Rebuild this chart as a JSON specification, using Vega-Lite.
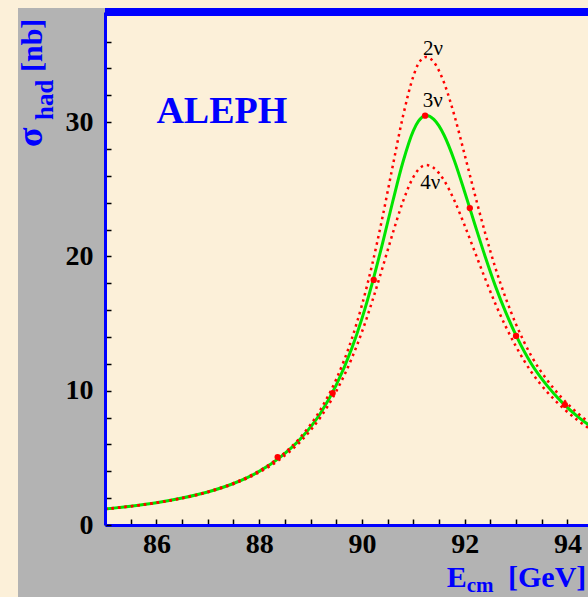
{
  "$schema": "https://vega.github.io/schema/vega-lite/v6.json",
  "width": 483,
  "height": 513,
  "autosize": "none",
  "padding": {"left": 105, "top": 12, "right": 0, "bottom": 72},
  "background": "#fcf0d9",
  "config": {"view": {"stroke": null}},
  "datasets": {
    "fit3": [
      {"E": 85, "sigma": 1.19}, {"E": 85.5, "sigma": 1.40}, {"E": 86, "sigma": 1.66}, {"E": 86.5, "sigma": 2.01},
      {"E": 87, "sigma": 2.46}, {"E": 87.5, "sigma": 3.09}, {"E": 88, "sigma": 3.99}, {"E": 88.4, "sigma": 5.02},
      {"E": 88.8, "sigma": 6.40}, {"E": 89.2, "sigma": 8.36}, {"E": 89.5, "sigma": 10.41}, {"E": 89.8, "sigma": 13.12},
      {"E": 90.0, "sigma": 15.37}, {"E": 90.2, "sigma": 18.0}, {"E": 90.4, "sigma": 20.96}, {"E": 90.6, "sigma": 24.09},
      {"E": 90.8, "sigma": 27.05}, {"E": 91.0, "sigma": 29.35}, {"E": 91.1, "sigma": 30.07}, {"E": 91.25, "sigma": 30.5},
      {"E": 91.4, "sigma": 30.21}, {"E": 91.5, "sigma": 29.72}, {"E": 91.6, "sigma": 29.02}, {"E": 91.8, "sigma": 27.13},
      {"E": 92.0, "sigma": 24.80}, {"E": 92.2, "sigma": 22.36}, {"E": 92.4, "sigma": 19.98}, {"E": 92.6, "sigma": 17.77},
      {"E": 92.8, "sigma": 15.83}, {"E": 93.0, "sigma": 14.12}, {"E": 93.3, "sigma": 11.99}, {"E": 93.6, "sigma": 10.40},
      {"E": 93.9, "sigma": 9.11}, {"E": 94.2, "sigma": 8.07}, {"E": 94.5, "sigma": 7.22}
    ],
    "fitAlt": [
      {"nu": "2ν", "E": 85, "sigma": 1.19}, {"nu": "2ν", "E": 85.5, "sigma": 1.40}, {"nu": "2ν", "E": 86, "sigma": 1.66},
      {"nu": "2ν", "E": 86.5, "sigma": 2.01}, {"nu": "2ν", "E": 87, "sigma": 2.48}, {"nu": "2ν", "E": 87.5, "sigma": 3.12},
      {"nu": "2ν", "E": 88, "sigma": 4.03}, {"nu": "2ν", "E": 88.4, "sigma": 5.07}, {"nu": "2ν", "E": 88.8, "sigma": 6.52},
      {"nu": "2ν", "E": 89.2, "sigma": 8.63}, {"nu": "2ν", "E": 89.5, "sigma": 10.85}, {"nu": "2ν", "E": 89.8, "sigma": 13.83},
      {"nu": "2ν", "E": 90.0, "sigma": 16.37}, {"nu": "2ν", "E": 90.2, "sigma": 19.40}, {"nu": "2ν", "E": 90.4, "sigma": 22.91},
      {"nu": "2ν", "E": 90.6, "sigma": 26.74}, {"nu": "2ν", "E": 90.8, "sigma": 30.45}, {"nu": "2ν", "E": 91.0, "sigma": 33.40},
      {"nu": "2ν", "E": 91.1, "sigma": 34.36}, {"nu": "2ν", "E": 91.25, "sigma": 34.85}, {"nu": "2ν", "E": 91.4, "sigma": 34.47},
      {"nu": "2ν", "E": 91.5, "sigma": 33.83}, {"nu": "2ν", "E": 91.6, "sigma": 32.92}, {"nu": "2ν", "E": 91.8, "sigma": 30.49},
      {"nu": "2ν", "E": 92.0, "sigma": 27.57}, {"nu": "2ν", "E": 92.2, "sigma": 24.58}, {"nu": "2ν", "E": 92.4, "sigma": 21.72},
      {"nu": "2ν", "E": 92.6, "sigma": 19.12}, {"nu": "2ν", "E": 92.8, "sigma": 16.88}, {"nu": "2ν", "E": 93.0, "sigma": 14.94},
      {"nu": "2ν", "E": 93.3, "sigma": 12.57}, {"nu": "2ν", "E": 93.6, "sigma": 10.82}, {"nu": "2ν", "E": 93.9, "sigma": 9.43},
      {"nu": "2ν", "E": 94.2, "sigma": 8.32}, {"nu": "2ν", "E": 94.5, "sigma": 7.41},
      {"nu": "4ν", "E": 85, "sigma": 1.19}, {"nu": "4ν", "E": 85.5, "sigma": 1.39}, {"nu": "4ν", "E": 86, "sigma": 1.65},
      {"nu": "4ν", "E": 86.5, "sigma": 1.99}, {"nu": "4ν", "E": 87, "sigma": 2.44}, {"nu": "4ν", "E": 87.5, "sigma": 3.05},
      {"nu": "4ν", "E": 88, "sigma": 3.92}, {"nu": "4ν", "E": 88.4, "sigma": 4.88}, {"nu": "4ν", "E": 88.8, "sigma": 6.20},
      {"nu": "4ν", "E": 89.2, "sigma": 8.06}, {"nu": "4ν", "E": 89.5, "sigma": 9.95}, {"nu": "4ν", "E": 89.8, "sigma": 12.39},
      {"nu": "4ν", "E": 90.0, "sigma": 14.37}, {"nu": "4ν", "E": 90.2, "sigma": 16.65}, {"nu": "4ν", "E": 90.4, "sigma": 19.15},
      {"nu": "4ν", "E": 90.6, "sigma": 21.72}, {"nu": "4ν", "E": 90.8, "sigma": 24.10}, {"nu": "4ν", "E": 91.0, "sigma": 25.90},
      {"nu": "4ν", "E": 91.1, "sigma": 26.47}, {"nu": "4ν", "E": 91.25, "sigma": 26.8}, {"nu": "4ν", "E": 91.4, "sigma": 26.58},
      {"nu": "4ν", "E": 91.5, "sigma": 26.20}, {"nu": "4ν", "E": 91.6, "sigma": 25.65}, {"nu": "4ν", "E": 91.8, "sigma": 24.16},
      {"nu": "4ν", "E": 92.0, "sigma": 22.30}, {"nu": "4ν", "E": 92.2, "sigma": 20.31}, {"nu": "4ν", "E": 92.4, "sigma": 18.33},
      {"nu": "4ν", "E": 92.6, "sigma": 16.45}, {"nu": "4ν", "E": 92.8, "sigma": 14.77}, {"nu": "4ν", "E": 93.0, "sigma": 13.28},
      {"nu": "4ν", "E": 93.3, "sigma": 11.38}, {"nu": "4ν", "E": 93.6, "sigma": 9.93}, {"nu": "4ν", "E": 93.9, "sigma": 8.76},
      {"nu": "4ν", "E": 94.2, "sigma": 7.79}, {"nu": "4ν", "E": 94.5, "sigma": 6.99}
    ],
    "points": [
      {"E": 88.36, "sigma": 5.06}, {"E": 89.43, "sigma": 9.82}, {"E": 90.23, "sigma": 18.25},
      {"E": 91.23, "sigma": 30.48}, {"E": 92.10, "sigma": 23.6}, {"E": 93.0, "sigma": 14.08}, {"E": 93.95, "sigma": 8.95}
    ]
  },
  "layer": [
    {
      "data": {"values": [{}]},
      "mark": {"type": "rect", "color": "#b3b3b3", "clip": false},
      "encoding": {
        "x": {"datum": 83.307, "type": "quantitative"},
        "x2": {"datum": 95.5},
        "y": {"datum": 38.498, "type": "quantitative"},
        "y2": {"datum": -7}
      }
    },
    {
      "data": {"values": [{}]},
      "mark": {"type": "rect", "color": "#fcf0d9", "clip": false},
      "encoding": {
        "x": {"datum": 85, "type": "quantitative"},
        "x2": {"datum": 95.5},
        "y": {"datum": 0, "type": "quantitative"},
        "y2": {"datum": 38.6}
      }
    },
    {
      "data": {"name": "fit3"},
      "mark": {"type": "line", "color": "#00e400", "strokeWidth": 3, "interpolate": "monotone", "clip": true},
      "encoding": {
        "x": {
          "field": "E", "type": "quantitative",
          "scale": {"domain": [85, 94.4], "nice": false, "zero": false},
          "axis": {
            "title": null, "grid": false, "zindex": 1, "tickCount": 60,
            "values": [85.5, 86, 86.5, 87, 87.5, 88, 88.5, 89, 89.5, 90, 90.5, 91, 91.5, 92, 92.5, 93, 93.5, 94],
            "domainColor": "#0000ff", "domainWidth": 3,
            "tickColor": "#000000", "tickWidth": 1.5, "tickSize": -6,
            "labelExpr": "datum.value % 2 === 0 ? format(datum.value, 'd') : ''",
            "labelFont": "Liberation Serif", "labelFontSize": 28, "labelFontWeight": "bold", "labelColor": "#000000",
            "labelPadding": 11, "labelFlush": false, "labelOverlap": false, "labelBound": false
          }
        },
        "y": {
          "field": "sigma", "type": "quantitative",
          "scale": {"domain": [0, 38.2], "nice": false, "zero": false},
          "axis": {
            "title": null, "grid": false, "zindex": 1, "tickCount": 60,
            "values": [0, 2, 4, 6, 8, 10, 12, 14, 16, 18, 20, 22, 24, 26, 28, 30, 32, 34, 36],
            "domainColor": "#0000ff", "domainWidth": 3,
            "tickColor": "#000000", "tickWidth": 1.5, "tickSize": -6,
            "labelExpr": "datum.value % 10 === 0 ? format(datum.value, 'd') : ''",
            "labelFont": "Liberation Serif", "labelFontSize": 28, "labelFontWeight": "bold", "labelColor": "#000000",
            "labelPadding": 18, "labelFlush": false, "labelOverlap": false, "labelBound": false
          }
        }
      }
    },
    {
      "data": {"name": "fitAlt"},
      "mark": {"type": "line", "color": "#ff0000", "strokeWidth": 2.5, "strokeDash": [2.5, 4], "interpolate": "monotone", "clip": true},
      "encoding": {
        "x": {"field": "E", "type": "quantitative"},
        "y": {"field": "sigma", "type": "quantitative"},
        "detail": {"field": "nu"}
      }
    },
    {
      "data": {"name": "points"},
      "mark": {"type": "circle", "color": "#ff0000", "opacity": 1, "size": 40},
      "encoding": {
        "x": {"field": "E", "type": "quantitative"},
        "y": {"field": "sigma", "type": "quantitative"}
      }
    },
    {
      "data": {"values": [{}]},
      "mark": {"type": "rule", "color": "#0000ff", "strokeWidth": 8, "clip": false},
      "encoding": {"y": {"datum": 38.2, "type": "quantitative"}}
    },
    {
      "data": {"values": [{}]},
      "mark": {"type": "text", "text": "ALEPH", "font": "Liberation Serif", "fontSize": 38, "fontWeight": "bold", "color": "#0000ff", "align": "left", "baseline": "alphabetic"},
      "encoding": {"x": {"datum": 86.0, "type": "quantitative"}, "y": {"datum": 29.96, "type": "quantitative"}}
    },
    {
      "data": {"values": [{}]},
      "mark": {"type": "text", "text": "2ν", "font": "Liberation Serif", "fontSize": 21, "color": "#000000", "align": "center", "baseline": "alphabetic"},
      "encoding": {"x": {"datum": 91.383, "type": "quantitative"}, "y": {"datum": 35.0, "type": "quantitative"}}
    },
    {
      "data": {"values": [{}]},
      "mark": {"type": "text", "text": "3ν", "font": "Liberation Serif", "fontSize": 21, "color": "#000000", "align": "center", "baseline": "alphabetic"},
      "encoding": {"x": {"datum": 91.381, "type": "quantitative"}, "y": {"datum": 31.15, "type": "quantitative"}}
    },
    {
      "data": {"values": [{}]},
      "mark": {"type": "text", "text": "4ν", "font": "Liberation Serif", "fontSize": 21, "color": "#000000", "align": "center", "baseline": "alphabetic"},
      "encoding": {"x": {"datum": 91.331, "type": "quantitative"}, "y": {"datum": 25.0, "type": "quantitative"}}
    },
    {
      "data": {"values": [{}]},
      "mark": {"type": "text", "text": "σ", "font": "Liberation Serif", "fontSize": 36, "fontWeight": "bold", "color": "#0000ff", "align": "left", "baseline": "alphabetic", "angle": 270},
      "encoding": {"x": {"datum": 83.774, "type": "quantitative"}, "y": {"datum": 28.147, "type": "quantitative"}}
    },
    {
      "data": {"values": [{}]},
      "mark": {"type": "text", "text": "had", "font": "Liberation Serif", "fontSize": 25, "fontWeight": "bold", "color": "#0000ff", "align": "left", "baseline": "alphabetic", "angle": 270},
      "encoding": {"x": {"datum": 83.982, "type": "quantitative"}, "y": {"datum": 30.158, "type": "quantitative"}}
    },
    {
      "data": {"values": [{}]},
      "mark": {"type": "text", "text": "[nb]", "font": "Liberation Serif", "fontSize": 30, "fontWeight": "bold", "color": "#0000ff", "align": "left", "baseline": "alphabetic", "angle": 270},
      "encoding": {"x": {"datum": 83.774, "type": "quantitative"}, "y": {"datum": 33.732, "type": "quantitative"}}
    },
    {
      "data": {"values": [{}]},
      "mark": {"type": "text", "text": "E", "font": "Liberation Serif", "fontSize": 30, "fontWeight": "bold", "color": "#0000ff", "align": "left", "baseline": "alphabetic"},
      "encoding": {"x": {"datum": 91.65, "type": "quantitative"}, "y": {"datum": -4.596, "type": "quantitative"}}
    },
    {
      "data": {"values": [{}]},
      "mark": {"type": "text", "text": "cm", "font": "Liberation Serif", "fontSize": 21, "fontWeight": "bold", "color": "#0000ff", "align": "left", "baseline": "alphabetic"},
      "encoding": {"x": {"datum": 92.039, "type": "quantitative"}, "y": {"datum": -4.99, "type": "quantitative"}}
    },
    {
      "data": {"values": [{}]},
      "mark": {"type": "text", "text": "[GeV]", "font": "Liberation Serif", "fontSize": 30, "fontWeight": "bold", "color": "#0000ff", "align": "left", "baseline": "alphabetic"},
      "encoding": {"x": {"datum": 92.843, "type": "quantitative"}, "y": {"datum": -4.596, "type": "quantitative"}}
    }
  ]
}
